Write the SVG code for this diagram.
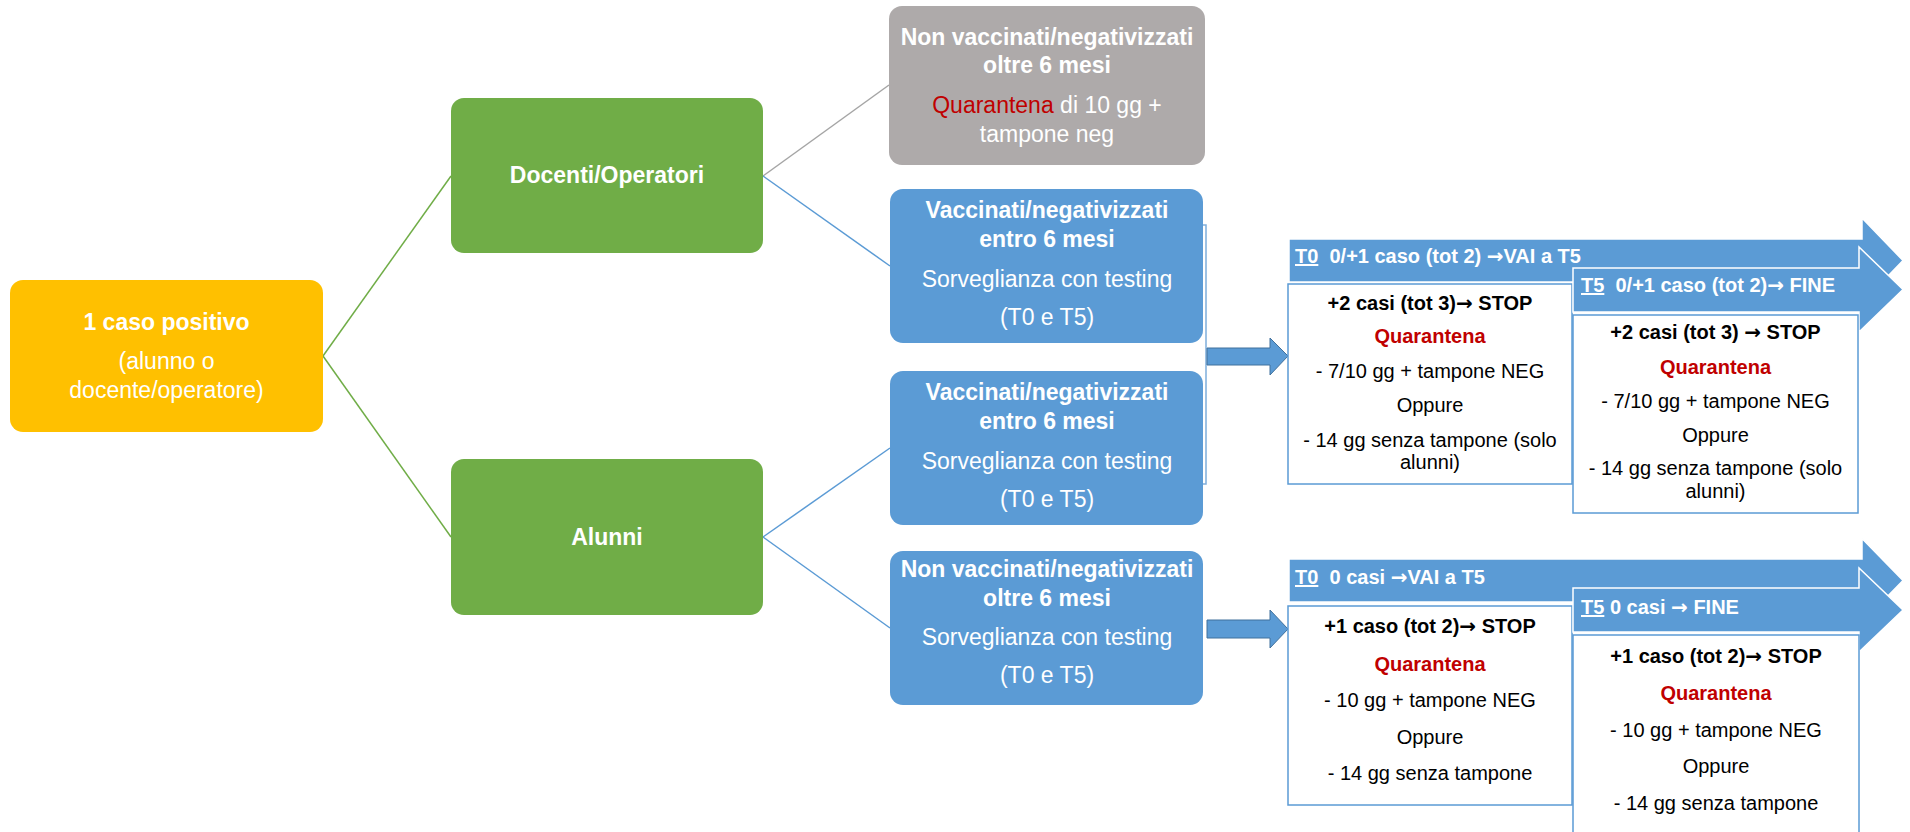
<svg xmlns="http://www.w3.org/2000/svg" width="1910" height="832" viewBox="0 0 1910 832">
<style>
text{font-family:"Liberation Sans",Arial,sans-serif;text-anchor:middle}
.w{fill:#fff;font-size:23px}
.b{font-weight:bold}
.k{fill:#000;font-size:20px}
.r{fill:#C00000}
.h{fill:#fff;font-size:20px;font-weight:bold;text-anchor:start}
.u{text-decoration:underline}
.ar{font-family:"DejaVu Sans",sans-serif;font-weight:bold}
.ln{fill:none;stroke-width:1.5}
.wb{fill:#fff;stroke:#5B9BD5;stroke-width:1.5}
.ba{fill:#5B9BD5;stroke:#fff;stroke-width:1.5}
.sa{fill:#5B9BD5;stroke:#41719C;stroke-width:1}
</style>
<g id="connectors">
<line class="ln" stroke="#70AD47" x1="323" y1="356" x2="451" y2="176"/>
<line class="ln" stroke="#70AD47" x1="323" y1="356" x2="451" y2="537"/>
<line class="ln" stroke="#A5A5A5" x1="763" y1="176" x2="889" y2="85"/>
<line class="ln" stroke="#5B9BD5" x1="763" y1="176" x2="890" y2="266"/>
<line class="ln" stroke="#5B9BD5" x1="763" y1="537" x2="890" y2="448"/>
<line class="ln" stroke="#5B9BD5" x1="763" y1="537" x2="890" y2="628"/>
<polyline class="ln" stroke="#7FAEDC" points="1203,225 1206,225 1206,484 1203,484"/>
<polygon class="sa" points="1207,348 1270,348 1270,338 1288,356 1270,375 1270,365 1207,365"/>
<polygon class="sa" points="1207,620 1270,620 1270,610 1288,629 1270,648 1270,638 1207,638"/>
</g>
<g id="n-positivo">
<rect x="10" y="280" width="313" height="152" rx="13" fill="#FFC000"/>
<text class="w b" x="166.5" y="330">1 caso positivo</text>
<text class="w" x="166.5" y="369">(alunno o</text>
<text class="w" x="166.5" y="398">docente/operatore)</text>
</g>
<g id="n-docenti">
<rect x="451" y="98" width="312" height="155" rx="13" fill="#70AD47"/>
<text class="w b" x="607" y="183">Docenti/Operatori</text>
</g>
<g id="n-alunni">
<rect x="451" y="459" width="312" height="156" rx="13" fill="#70AD47"/>
<text class="w b" x="607" y="545">Alunni</text>
</g>
<g id="n-doc-nonvacc">
<rect x="889" y="6" width="316" height="159" rx="13" fill="#AEAAAA"/>
<text class="w b" x="1047" y="45">Non vaccinati/negativizzati</text>
<text class="w b" x="1047" y="73">oltre 6 mesi</text>
<text class="w" x="1047" y="113"><tspan class="r">Quarantena</tspan> di 10 gg +</text>
<text class="w" x="1047" y="142">tampone neg</text>
</g>
<g id="n-doc-vacc">
<rect x="890" y="189" width="313" height="154" rx="13" fill="#5B9BD5"/>
<text class="w b" x="1047" y="218">Vaccinati/negativizzati</text>
<text class="w b" x="1047" y="247">entro 6 mesi</text>
<text class="w" x="1047" y="287">Sorveglianza con testing</text>
<text class="w" x="1047" y="325">(T0 e T5)</text>
</g>
<g id="n-alu-vacc">
<rect x="890" y="371" width="313" height="154" rx="13" fill="#5B9BD5"/>
<text class="w b" x="1047" y="400">Vaccinati/negativizzati</text>
<text class="w b" x="1047" y="429">entro 6 mesi</text>
<text class="w" x="1047" y="469">Sorveglianza con testing</text>
<text class="w" x="1047" y="507">(T0 e T5)</text>
</g>
<g id="n-alu-nonvacc">
<rect x="890" y="551" width="313" height="154" rx="13" fill="#5B9BD5"/>
<text class="w b" x="1047" y="577">Non vaccinati/negativizzati</text>
<text class="w b" x="1047" y="606">oltre 6 mesi</text>
<text class="w" x="1047" y="645">Sorveglianza con testing</text>
<text class="w" x="1047" y="683">(T0 e T5)</text>
</g>
<g id="n-t0-vacc">
<polygon class="ba" points="1289,239 1862,239 1862,218 1903,260.5 1862,303 1862,282 1289,282"/>
<text class="h" x="1295" y="263"><tspan class="u">T0</tspan>&#160; 0/+1 caso (tot 2) <tspan class="ar">→</tspan>VAI a T5</text>
<rect class="wb" x="1288" y="284" width="284" height="200"/>
<text class="k b" x="1430" y="310">+2 casi (tot 3)<tspan class="ar">→</tspan> STOP</text>
<text class="k b r" x="1430" y="343">Quarantena</text>
<text class="k" x="1430" y="378">- 7/10 gg + tampone NEG</text>
<text class="k" x="1430" y="412">Oppure</text>
<text class="k" x="1430" y="447">- 14 gg senza tampone (solo</text>
<text class="k" x="1430" y="469">alunni)</text>
</g>
<g id="n-t5-vacc">
<polygon class="ba" points="1573,268 1859,268 1859,247 1903,289.5 1859,332 1859,312 1573,312"/>
<text class="h" x="1581" y="292"><tspan class="u">T5</tspan>&#160; 0/+1 caso (tot 2)<tspan class="ar">→</tspan> FINE</text>
<rect class="wb" x="1573" y="315" width="285" height="198"/>
<text class="k b" x="1715.5" y="339">+2 casi (tot 3) <tspan class="ar">→</tspan> STOP</text>
<text class="k b r" x="1715.5" y="374">Quarantena</text>
<text class="k" x="1715.5" y="408">- 7/10 gg + tampone NEG</text>
<text class="k" x="1715.5" y="442">Oppure</text>
<text class="k" x="1715.5" y="475">- 14 gg senza tampone (solo</text>
<text class="k" x="1715.5" y="498">alunni)</text>
</g>
<g id="n-t0-nonvacc">
<polygon class="ba" points="1289,559 1862,559 1862,538.5 1903,580.5 1862,622.5 1862,602 1289,602"/>
<text class="h" x="1295" y="584"><tspan class="u">T0</tspan>&#160; 0 casi <tspan class="ar">→</tspan>VAI a T5</text>
<rect class="wb" x="1288" y="606" width="284" height="199"/>
<text class="k b" x="1430" y="633">+1 caso (tot 2)<tspan class="ar">→</tspan> STOP</text>
<text class="k b r" x="1430" y="671">Quarantena</text>
<text class="k" x="1430" y="707">- 10 gg + tampone NEG</text>
<text class="k" x="1430" y="744">Oppure</text>
<text class="k" x="1430" y="780">- 14 gg senza tampone</text>
</g>
<g id="n-t5-nonvacc">
<polygon class="ba" points="1573,588 1859,588 1859,568 1903,610 1859,652 1859,632 1573,632"/>
<text class="h" x="1581" y="614"><tspan class="u">T5</tspan> 0 casi <tspan class="ar">→</tspan> FINE</text>
<rect class="wb" x="1573" y="635" width="286" height="210"/>
<text class="k b" x="1716" y="663">+1 caso (tot 2)<tspan class="ar">→</tspan> STOP</text>
<text class="k b r" x="1716" y="700">Quarantena</text>
<text class="k" x="1716" y="737">- 10 gg + tampone NEG</text>
<text class="k" x="1716" y="773">Oppure</text>
<text class="k" x="1716" y="810">- 14 gg senza tampone</text>
</g>
</svg>
